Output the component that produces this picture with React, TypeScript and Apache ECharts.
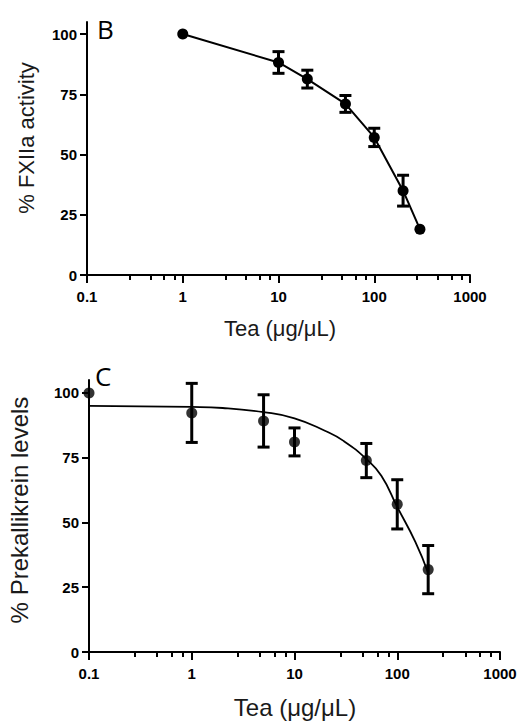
import React, { useEffect, useRef } from "react";
import * as echarts from "echarts";

// Panel B: FXIIa activity
const topConc = [1, 10, 20, 50, 100, 200, 300];
const topMean = [100, 88.2, 81.3, 71, 57.1, 35, 19];
const topErr = [0, 4.5, 3.7, 3.5, 3.8, 6.4, 0];

// Panel C: Prekallikrein levels
const botConc = [0.1, 1, 5, 10, 50, 100, 200];
const botMean = [100, 92.3, 89.2, 81.1, 73.9, 57, 31.8];
const botErr = [0, 11.4, 10.1, 5.4, 6.6, 9.5, 9.3];

// Panel C fitted curve
const fitConc = [0.1, 1, 2, 5, 10, 20, 30, 50, 70, 100, 150, 200];
const fitVal = [95, 94.6, 94.2, 92.6, 90.2, 85.3, 81.5, 74.5, 68, 56, 42.5, 30.5];

const yTicks = [0, 25, 50, 75, 100];
const xTicks = [0.1, 1, 10, 100, 1000];

const FONT = "'Liberation Sans', Arial, sans-serif";
const BLACK = "#000";

function errRows(conc: number[], mean: number[], err: number[]) {
  const rows: number[][] = [];
  conc.forEach((c, i) => {
    if (err[i] > 0) rows.push([c, mean[i] - err[i], mean[i] + err[i]]);
  });
  return rows;
}

function errRender(params: any, api: any) {
  const x = api.value(0);
  const p1 = api.coord([x, api.value(1)]);
  const p2 = api.coord([x, api.value(2)]);
  const w = 6;
  const st = { stroke: BLACK, lineWidth: 3 };
  return {
    type: "group",
    children: [
      { type: "line", shape: { x1: p1[0], y1: p1[1], x2: p2[0], y2: p2[1] }, style: st },
      { type: "line", shape: { x1: p1[0] - w, y1: p1[1], x2: p1[0] + w, y2: p1[1] }, style: st },
      { type: "line", shape: { x1: p2[0] - w, y1: p2[1], x2: p2[0] + w, y2: p2[1] }, style: st },
    ],
  };
}

function xAxisCfg(gridIndex: number) {
  return {
    type: "log",
    logBase: 10,
    gridIndex,
    min: 0.1,
    max: 1000,
    axisLine: { show: true, onZero: false, lineStyle: { color: BLACK, width: 2 } },
    axisTick: { show: true, length: 8, lineStyle: { color: BLACK, width: 2 } },
    minorTick: { show: true, splitNumber: 5, length: 5, lineStyle: { color: BLACK, width: 2 } },
    splitLine: { show: false },
    minorSplitLine: { show: false },
    axisLabel: {
      color: BLACK,
      fontFamily: FONT,
      fontWeight: "bold",
      fontSize: 15,
      margin: 14,
      customValues: xTicks,
      formatter: (v: number) => String(+Number(v).toPrecision(6)),
    },
  };
}

function yAxisCfg(gridIndex: number) {
  return {
    type: "value",
    gridIndex,
    min: 0,
    max: 105,
    axisLine: { show: true, onZero: false, lineStyle: { color: BLACK, width: 2 } },
    axisTick: { show: true, length: 7, customValues: yTicks, lineStyle: { color: BLACK, width: 2 } },
    splitLine: { show: false },
    axisLabel: {
      color: BLACK,
      fontFamily: FONT,
      fontWeight: "bold",
      fontSize: 15,
      margin: 10,
      customValues: yTicks,
    },
  };
}

export default function App() {
  const ref = useRef<HTMLDivElement>(null);
  useEffect(() => {
    if (!ref.current) return;
    const chart = echarts.init(ref.current, null, { renderer: "svg" });
    const textColor = "#1a1a1a";
    chart.setOption({
      animation: false,
      backgroundColor: "#fff",
      grid: [
        { left: 87, top: 22, width: 383, height: 253 },
        { left: 89, top: 380, width: 411, height: 272 },
      ],
      xAxis: [xAxisCfg(0), xAxisCfg(1)],
      yAxis: [yAxisCfg(0), yAxisCfg(1)],
      series: [
        {
          type: "line",
          xAxisIndex: 0,
          yAxisIndex: 0,
          data: topConc.map((c, i) => [c, topMean[i]]),
          symbol: "circle",
          symbolSize: 11,
          lineStyle: { color: BLACK, width: 2 },
          itemStyle: { color: BLACK },
          z: 3,
        },
        {
          type: "custom",
          xAxisIndex: 0,
          yAxisIndex: 0,
          data: errRows(topConc, topMean, topErr),
          encode: { x: 0, y: [1, 2] },
          renderItem: errRender,
          z: 2,
        },
        {
          type: "line",
          xAxisIndex: 1,
          yAxisIndex: 1,
          data: fitConc.map((c, i) => [c, fitVal[i]]),
          smooth: true,
          showSymbol: false,
          symbol: "none",
          lineStyle: { color: BLACK, width: 1.8 },
          z: 2,
        },
        {
          type: "scatter",
          xAxisIndex: 1,
          yAxisIndex: 1,
          data: botConc.map((c, i) => [c, botMean[i]]),
          symbol: "circle",
          symbolSize: 11,
          itemStyle: { color: BLACK },
          clip: false,
          z: 3,
        },
        {
          type: "custom",
          xAxisIndex: 1,
          yAxisIndex: 1,
          data: errRows(botConc, botMean, botErr),
          encode: { x: 0, y: [1, 2] },
          renderItem: errRender,
          z: 2,
        },
      ],
      graphic: [
        {
          type: "text",
          left: 97,
          top: 16,
          style: { text: "B", font: "26px 'Open Sans', 'Noto Sans', sans-serif", fill: BLACK },
        },
        {
          type: "text",
          left: 95,
          top: 363,
          style: { text: "C", font: "26px 'Open Sans', 'Noto Sans', sans-serif", fill: BLACK },
        },
        {
          type: "text",
          x: 280,
          y: 328,
          style: {
            text: "Tea (μg/μL)",
            font: `22px ${FONT}`,
            fill: textColor,
            align: "center",
            verticalAlign: "middle",
          },
        },
        {
          type: "text",
          x: 295,
          y: 707,
          style: {
            text: "Tea (μg/μL)",
            font: `24px ${FONT}`,
            fill: textColor,
            align: "center",
            verticalAlign: "middle",
          },
        },
        {
          type: "text",
          x: 26,
          y: 138,
          rotation: Math.PI / 2,
          style: {
            text: "% FXIIa activity",
            font: `22px ${FONT}`,
            fill: textColor,
            align: "center",
            verticalAlign: "middle",
          },
        },
        {
          type: "text",
          x: 19,
          y: 510,
          rotation: Math.PI / 2,
          style: {
            text: "% Prekallikrein levels",
            font: `24px ${FONT}`,
            fill: textColor,
            align: "center",
            verticalAlign: "middle",
          },
        },
      ],
    });
    return () => chart.dispose();
  }, []);
  return (
    <div
      ref={ref}
      style={{ position: "absolute", left: 0, top: 0, width: 522, height: 722 }}
    />
  );
}
